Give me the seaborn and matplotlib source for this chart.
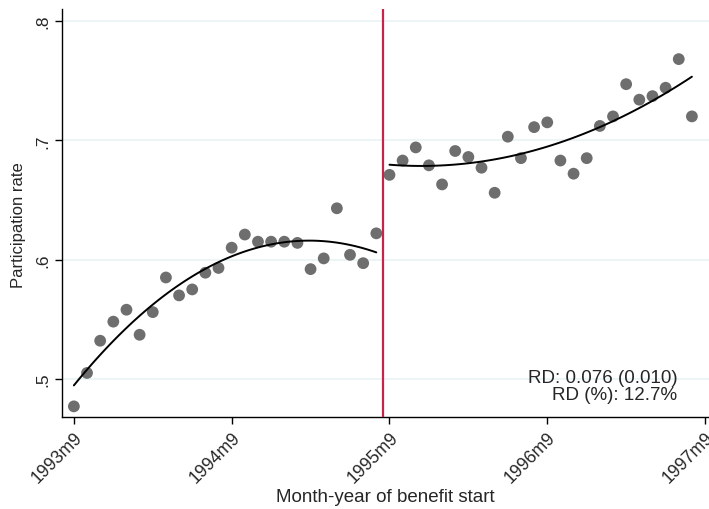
import numpy as np
import pandas as pd
import matplotlib
matplotlib.use("Agg")
import matplotlib.pyplot as plt
import seaborn as sns

# monthly bins, 0 = 1993m9 ... 47 = 1997m8
months = list(range(48))
rate = [0.477, 0.505, 0.532, 0.548, 0.558, 0.537, 0.556, 0.585, 0.570, 0.575,
        0.589, 0.593, 0.610, 0.621, 0.615, 0.615, 0.615, 0.614, 0.592, 0.601,
        0.643, 0.604, 0.597, 0.622,
        0.671, 0.683, 0.694, 0.679, 0.663, 0.691, 0.686, 0.677, 0.656, 0.703,
        0.685, 0.711, 0.715, 0.683, 0.672, 0.685, 0.712, 0.720, 0.747, 0.734,
        0.737, 0.744, 0.768, 0.720]
cutoff = 23.5
tick_pos = [0, 12, 24, 36, 48]
tick_labels = ["1993m9", "1994m9", "1995m9", "1996m9", "1997m9"]
y_ticks = [0.5, 0.6, 0.7, 0.8]
y_labels = [".5", ".6", ".7", ".8"]

df = pd.DataFrame({"month": months, "rate": rate})
df["side"] = np.where(df["month"] < cutoff, "pre", "post")

sns.set_style("white")
plt.rcParams["font.family"] = ["Liberation Sans", "DejaVu Sans"]

fig = plt.figure(figsize=(7.09, 5.10), dpi=100)
ax = fig.add_axes([0.0875, 0.1804, 0.9125, 0.80])

for y in y_ticks:
    ax.axhline(y, color="#eaf2f3", lw=1.2, zorder=0)

sns.scatterplot(data=df, x="month", y="rate", color="#6e6e6e", s=72,
                edgecolor="none", ax=ax, zorder=2)
for side in ["pre", "post"]:
    sns.regplot(data=df[df["side"] == side], x="month", y="rate", order=2,
                ci=None, scatter=False, truncate=True,
                line_kws={"color": "black", "lw": 1.4, "zorder": 3}, ax=ax)

ax.axvline(cutoff, color="#c8234a", lw=1.6, zorder=4)

ax.set_xlim(-0.9, 48.3)
ax.set_ylim(0.4681, 0.81)
ax.set_xticks(tick_pos)
ax.set_xticklabels(tick_labels, rotation=45, ha="right", rotation_mode="anchor",
                   fontsize=12.8)
ax.set_yticks(y_ticks)
ax.set_yticklabels(y_labels, rotation=90, va="center", fontsize=12.5)
ax.tick_params(axis="both", direction="out", length=5, width=1, color="black",
               left=True, bottom=True)
ax.tick_params(axis="x", pad=3)
ax.set_xlabel("Month-year of benefit start", fontsize=13.5, labelpad=2)
ax.set_ylabel("Participation rate", fontsize=12)
ax.yaxis.set_label_coords(-0.055, 0.473)

sns.despine(ax=ax, top=True, right=True)
for s in ["left", "bottom"]:
    ax.spines[s].set_color("black")
    ax.spines[s].set_linewidth(1)

ax.text(0.951, 0.076, "RD: 0.076 (0.010)\nRD (%): 12.7%", transform=ax.transAxes,
        ha="right", va="center", fontsize=13.5, linespacing=0.95,
        multialignment="right")

fig.savefig("out.png", dpi=100)
